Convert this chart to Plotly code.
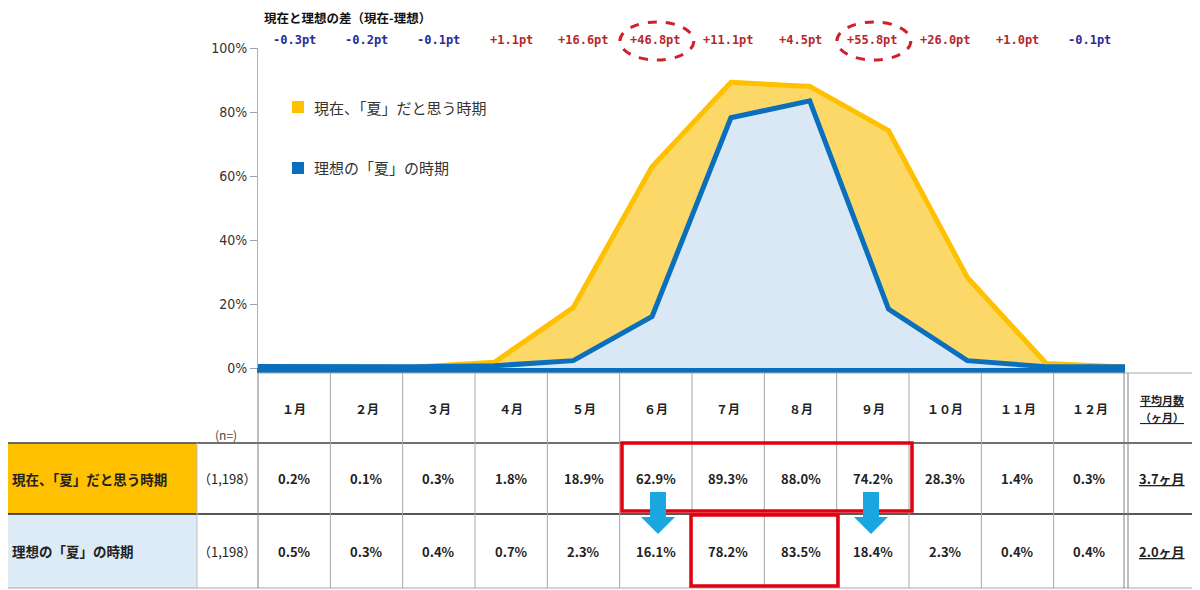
import plotly.graph_objects as go

months = ["１月", "２月", "３月", "４月", "５月", "６月", "７月", "８月", "９月", "１０月", "１１月", "１２月"]
current = [0.2, 0.1, 0.3, 1.8, 18.9, 62.9, 89.3, 88.0, 74.2, 28.3, 1.4, 0.3]
ideal = [0.5, 0.3, 0.4, 0.7, 2.3, 16.1, 78.2, 83.5, 18.4, 2.3, 0.4, 0.4]
diff_pt = [-0.3, -0.2, -0.1, 1.1, 16.6, 46.8, 11.1, 4.5, 55.8, 26.0, 1.0, -0.1]
row_labels = ["現在、「夏」だと思う時期", "理想の「夏」の時期"]
row_n = ["（1,198）", "（1,198）"]
avg_months = [3.7, 2.0]

W, H = 1200, 590
OFF = 8  # page body margin
JP = "Noto Sans CJK JP"


# positions below are given in screen pixels, converted to paper units
def px(x):
    return (x - OFF) / W


def py(y):
    return 1 - (y - OFF) / H


fig = go.Figure()
fig.add_trace(go.Scatter(x=months, y=[v / 100 for v in current], mode="lines", fill="tozeroy",
                         fillcolor="#FCD869", line=dict(color="#FFC000", width=5),
                         name=row_labels[0], showlegend=False))
fig.add_trace(go.Scatter(x=months, y=[v / 100 for v in ideal], mode="lines", fill="tozeroy",
                         fillcolor="#DAE8F6", line=dict(color="#0A6FBD", width=5),
                         name=row_labels[1], showlegend=False))

shapes = []
ann = []


def text(x, y, s, size=13, color="#222", anchor="center", **fk):
    ann.append(dict(x=px(x), y=py(y), xref="paper", yref="paper", text=s, showarrow=False,
                    xanchor=anchor, yanchor="middle",
                    font=dict(family=fk.pop("family", JP), size=size, color=color, **fk)))


# title + differences
text(262, 18, "現在と理想の差（現在-理想）", 12.5, "#111", "left", weight="bold")

# table geometry (pixels)
x0, cw = 258, (1126 - 258) / 12
col_edges = [x0 + i * cw for i in range(13)]
centers = [x0 + (i + 0.5) * cw for i in range(12)]
r_top, r1, r2, r_bot = 373, 443, 514, 588
row_mid = [(r1 + r2) / 2, (r2 + r_bot) / 2]

for i, d in enumerate(diff_pt):
    text(centers[i], 40, f"{d:+.1f}pt", 12, "#2B2B9B" if d < 0 else "#B5292E",
         family="DejaVu Sans Mono", weight="bold")

for i in (5, 8):
    shapes.append(dict(type="circle", xref="paper", yref="paper",
                       x0=px(centers[i] - 36), x1=px(centers[i] + 38), y0=py(22), y1=py(60),
                       line=dict(color="#D0202A", width=3, dash="dash")))

# legend
for lab, c, yy in zip(row_labels, ["#FFC000", "#0A6FBD"], [107, 168]):
    shapes.append(dict(type="rect", xref="paper", yref="paper", x0=px(292), x1=px(304),
                       y0=py(yy - 6), y1=py(yy + 6), fillcolor=c, line=dict(width=0)))
    text(312, yy, lab, 15, "#333", "left")

# table fills
shapes.append(dict(type="rect", xref="paper", yref="paper", x0=px(0), x1=px(197), y0=py(r1), y1=py(r2),
                   fillcolor="#FFC000", line=dict(width=0), layer="below"))
shapes.append(dict(type="rect", xref="paper", yref="paper", x0=px(0), x1=px(197), y0=py(r2), y1=py(r_bot),
                   fillcolor="#DDEBF7", line=dict(width=0), layer="below"))


def hline(y, xa, xb, color, w=1):
    shapes.append(dict(type="line", xref="paper", yref="paper", x0=px(xa), x1=px(xb), y0=py(y), y1=py(y),
                       line=dict(color=color, width=w)))


def vline(x, ya, yb, color, w=1):
    shapes.append(dict(type="line", xref="paper", yref="paper", x0=px(x), x1=px(x), y0=py(ya), y1=py(yb),
                       line=dict(color=color, width=w)))


hline(r_top, 258, 1198, "#A6A6A6")
hline(r1, 0, 1198, "#404040", 1.5)
hline(r2, 0, 1198, "#202020", 1.5)
hline(r_bot, 0, 1198, "#A6A6A6")
vline(197, r1, r_bot, "#BFBFBF")
vline(258, r_top, r_bot, "#808080")
for e in col_edges[1:-1]:
    vline(e, r_top, r_bot, "#A6A6A6")
vline(1124, r_top, r_bot, "#808080")
vline(1128, r_top, r_bot, "#808080")
vline(1198, r_top, r_bot, "#A6A6A6")

# header texts
for i, m in enumerate(months):
    text(centers[i], 408, m, 12, weight="bold")
text(1162, 400, "平均月数", 11, weight="bold", lineposition="under")
text(1162, 417, "（ヶ月）", 11, weight="bold", lineposition="under")
text(226, 434, "(n=)", 12, "#444")

# body texts
for r, vals in enumerate([current, ideal]):
    text(10, row_mid[r], row_labels[r], 13.5, anchor="left", weight="bold")
    text(227, row_mid[r], row_n[r], 13)
    for i, v in enumerate(vals):
        text(centers[i], row_mid[r], f"{v:.1f}%", 13, weight="bold")
    text(1162, row_mid[r], f"{avg_months[r]:.1f}ヶ月", 13, weight="bold", lineposition="under")

# highlight boxes
shapes.append(dict(type="rect", xref="paper", yref="paper", x0=px(622), x1=px(912), y0=py(443), y1=py(511),
                   line=dict(color="#E3000F", width=3.5)))
shapes.append(dict(type="rect", xref="paper", yref="paper", x0=px(691), x1=px(838), y0=py(515), y1=py(586),
                   line=dict(color="#E3000F", width=3.5)))

# arrows
for cx in (658, 871):
    pts = [(cx - 8, 492), (cx + 8, 492), (cx + 8, 517), (cx + 17, 517), (cx, 534),
           (cx - 17, 517), (cx - 8, 517)]
    path = "M " + " L ".join(f"{px(a):.5f},{py(b):.5f}" for a, b in pts) + " Z"
    shapes.append(dict(type="path", xref="paper", yref="paper", path=path,
                       fillcolor="#1AA7E0", line=dict(width=0)))

fig.update_layout(
    width=W, height=H, margin=dict(l=0, r=0, t=0, b=0, pad=0, autoexpand=False),
    paper_bgcolor="white", plot_bgcolor="white",
    xaxis=dict(type="category", domain=[px(258), px(1125)], range=[0, 11], showticklabels=False,
               ticks="", showgrid=False, zeroline=False, showline=True, linecolor="#0A6FBD",
               linewidth=5, layer="above traces", fixedrange=True, automargin=False),
    yaxis=dict(domain=[py(368), py(48)], range=[0, 1], dtick=0.2, tickformat=".0%",
               ticks="outside", ticklen=7, tickcolor="#A0A0A0", showgrid=False, zeroline=False,
               showline=True, linecolor="#B0B0B0", linewidth=1, automargin=False,
               tickfont=dict(family="DejaVu Sans Condensed, Liberation Sans Narrow, sans-serif",
                             size=14, color="#333")),
    shapes=shapes, annotations=ann,
)

fig.write_html("out.html")
